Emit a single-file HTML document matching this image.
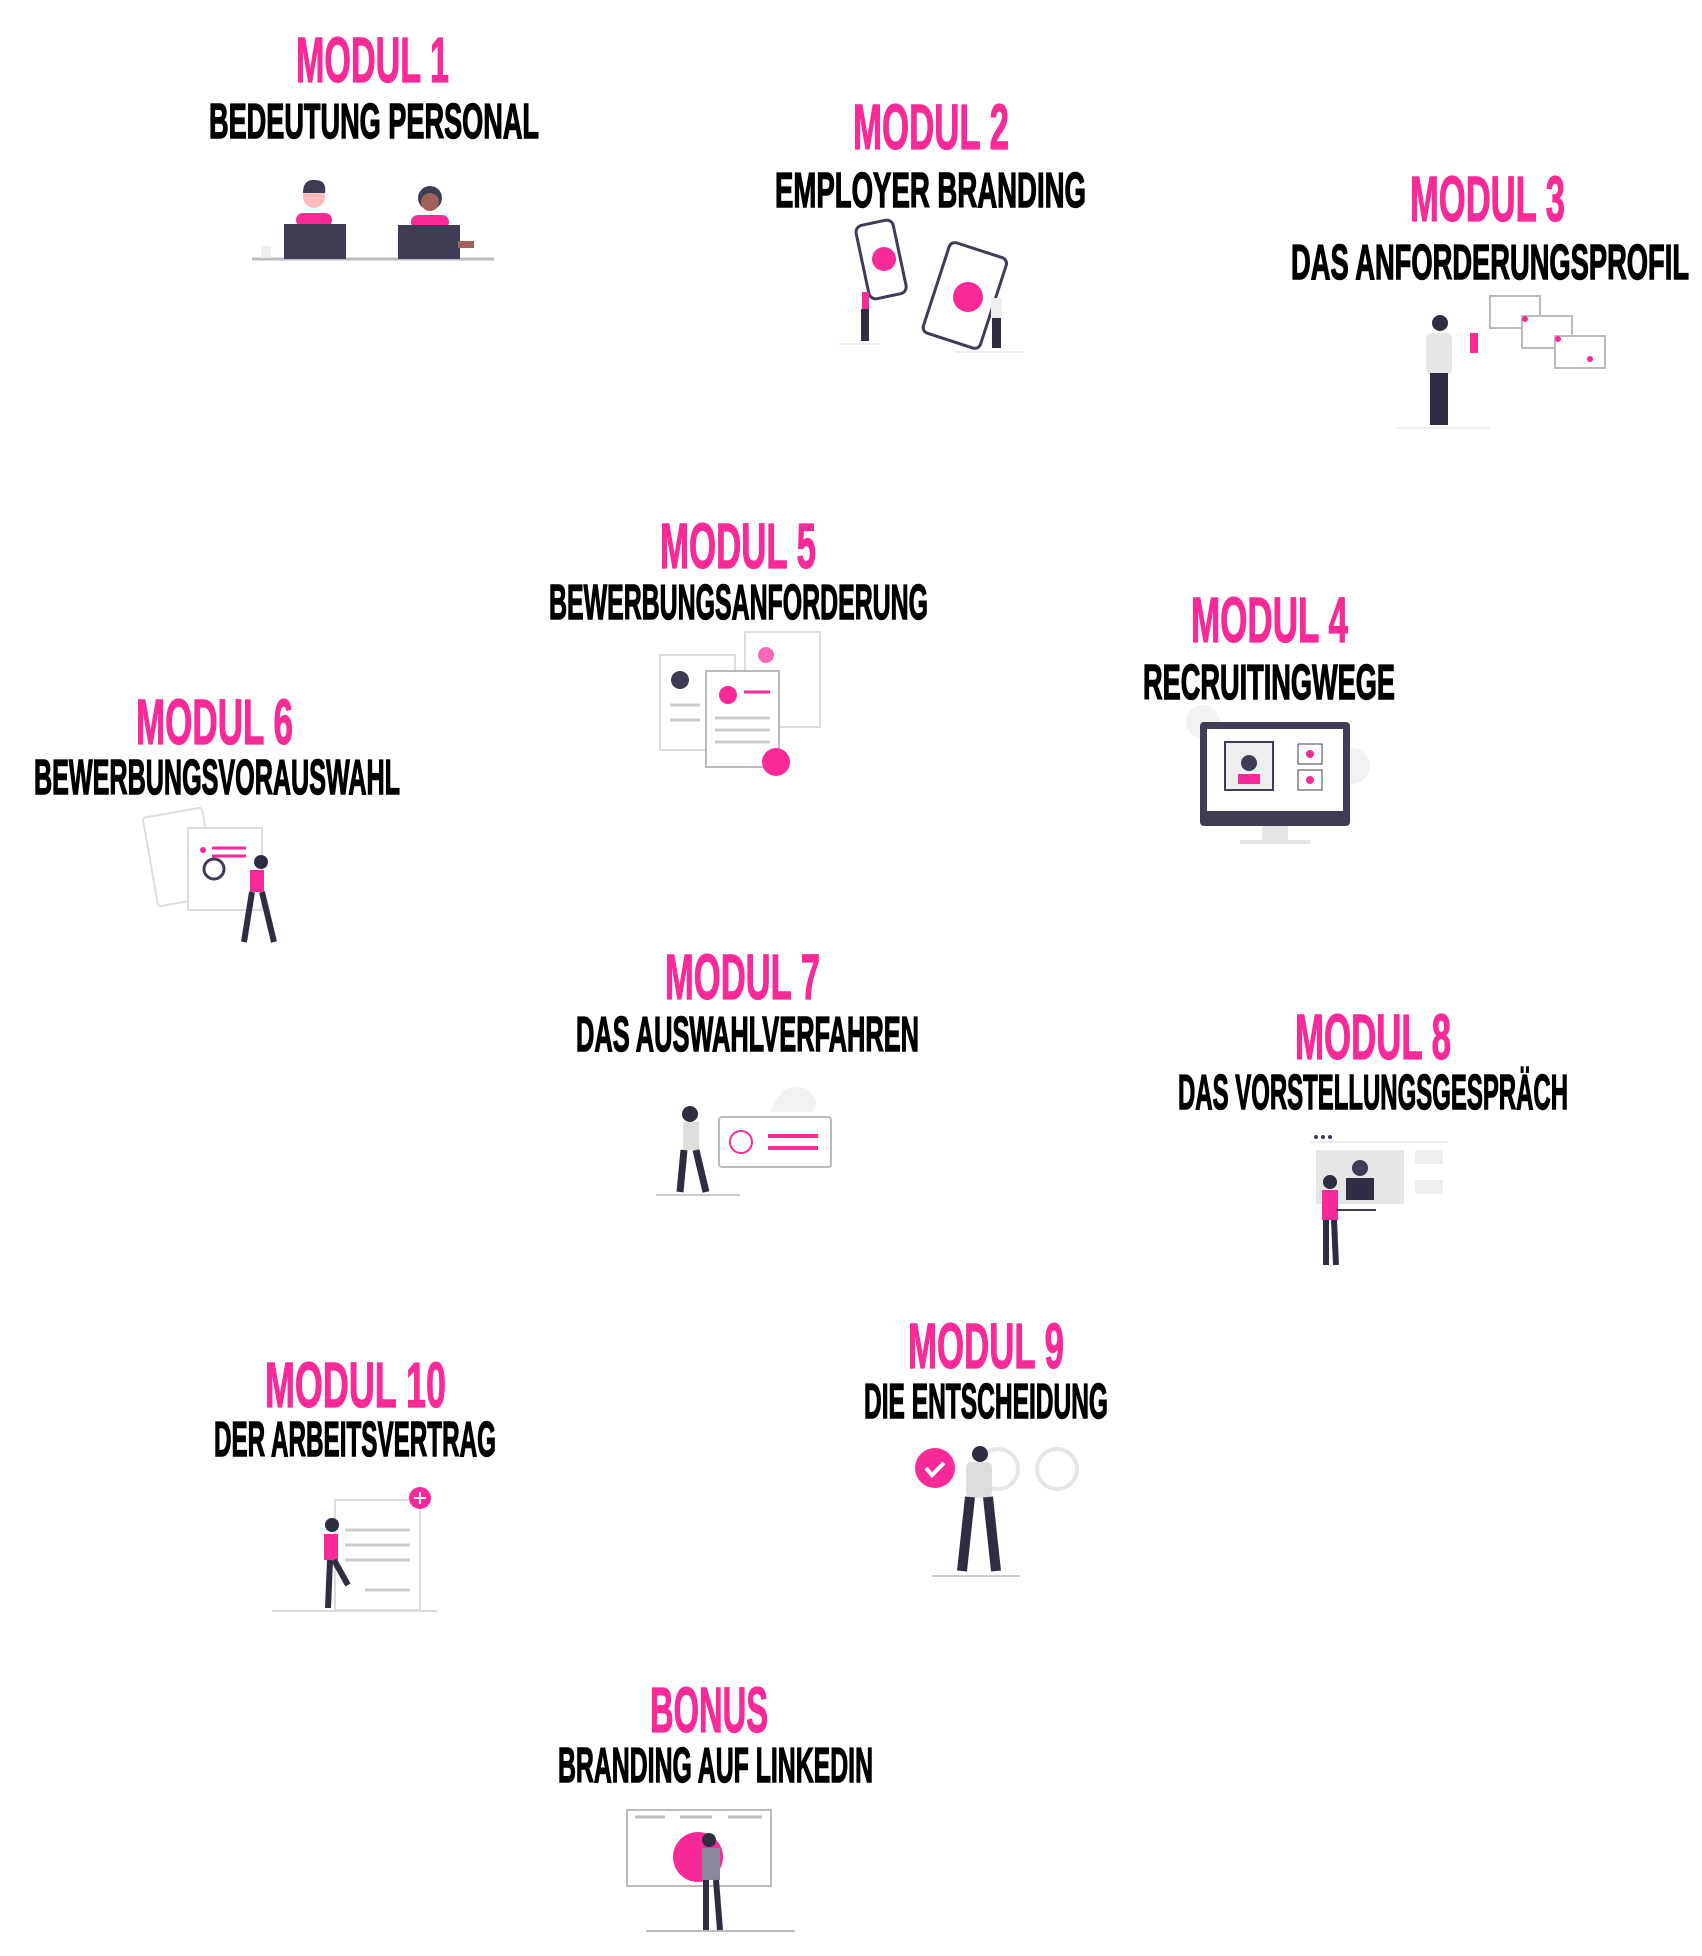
<!DOCTYPE html>
<html><head><meta charset="utf-8"><style>
html,body{margin:0;padding:0;background:#fff}
svg{display:block}
.t{font-family:"Liberation Sans Narrow","Liberation Sans",sans-serif;font-weight:bold;fill:#f72a98;stroke:#f72a98;stroke-width:1.2;font-size:64px}
.s{font-family:"Liberation Sans Narrow","Liberation Sans",sans-serif;font-weight:bold;fill:#000;stroke:#000;stroke-width:1.4;font-size:49px}
</style></head><body>
<svg width="1702" height="1956" viewBox="0 0 1702 1956" xmlns="http://www.w3.org/2000/svg">
<rect width="1702" height="1956" fill="#fff"/>
<g transform="translate(-1,-3)">
<text class="t" x="297" y="85" textLength="153" lengthAdjust="spacingAndGlyphs">MODUL 1</text>
<text class="s" x="210" y="141" textLength="330" lengthAdjust="spacingAndGlyphs">BEDEUTUNG PERSONAL</text>
<text class="t" x="854" y="152" textLength="156" lengthAdjust="spacingAndGlyphs">MODUL 2</text>
<text class="s" x="776" y="210" textLength="311" lengthAdjust="spacingAndGlyphs">EMPLOYER BRANDING</text>
<text class="t" x="1411" y="224" textLength="155" lengthAdjust="spacingAndGlyphs">MODUL 3</text>
<text class="s" x="1292" y="282" textLength="398" lengthAdjust="spacingAndGlyphs">DAS ANFORDERUNGSPROFIL</text>
<text class="t" x="661" y="571" textLength="156" lengthAdjust="spacingAndGlyphs">MODUL 5</text>
<text class="s" x="550" y="622" textLength="379" lengthAdjust="spacingAndGlyphs">BEWERBUNGSANFORDERUNG</text>
<text class="t" x="1192" y="645" textLength="157" lengthAdjust="spacingAndGlyphs">MODUL 4</text>
<text class="s" x="1144" y="702" textLength="252" lengthAdjust="spacingAndGlyphs">RECRUITINGWEGE</text>
<text class="t" x="137" y="747" textLength="157" lengthAdjust="spacingAndGlyphs">MODUL 6</text>
<text class="s" x="35" y="797" textLength="366" lengthAdjust="spacingAndGlyphs">BEWERBUNGSVORAUSWAHL</text>
<text class="t" x="666" y="1002" textLength="155" lengthAdjust="spacingAndGlyphs">MODUL 7</text>
<text class="s" x="577" y="1054" textLength="343" lengthAdjust="spacingAndGlyphs">DAS AUSWAHLVERFAHREN</text>
<text class="t" x="1296" y="1062" textLength="156" lengthAdjust="spacingAndGlyphs">MODUL 8</text>
<text class="s" x="1179" y="1112" textLength="390" lengthAdjust="spacingAndGlyphs">DAS VORSTELLUNGSGESPRÄCH</text>
<text class="t" x="909" y="1371" textLength="156" lengthAdjust="spacingAndGlyphs">MODUL 9</text>
<text class="s" x="865" y="1421" textLength="244" lengthAdjust="spacingAndGlyphs">DIE ENTSCHEIDUNG</text>
<text class="t" x="266" y="1410" textLength="181" lengthAdjust="spacingAndGlyphs">MODUL 10</text>
<text class="s" x="215" y="1459" textLength="282" lengthAdjust="spacingAndGlyphs">DER ARBEITSVERTRAG</text>
<text class="t" x="651" y="1735" textLength="118" lengthAdjust="spacingAndGlyphs">BONUS</text>
<text class="s" x="559" y="1785" textLength="315" lengthAdjust="spacingAndGlyphs">BRANDING AUF LINKEDIN</text>
</g>

<!-- M1 illustration -->
<g>
<line x1="252" y1="259" x2="494" y2="259" stroke="#bbb" stroke-width="3"/>
<circle cx="314" cy="197" r="11" fill="#fbb"/><path d="M303 193 q0-14 12-13 q12 0 10 13z" fill="#3f3d56"/>
<rect x="296" y="213" width="36" height="14" rx="7" fill="#f72a98"/>
<rect x="284" y="224" width="62" height="35" fill="#3f3d56"/>
<circle cx="430" cy="198" r="12" fill="#3f3d56"/><circle cx="430" cy="202" r="9" fill="#a0615a"/>
<rect x="411" y="215" width="38" height="14" rx="7" fill="#f72a98"/>
<rect x="398" y="225" width="62" height="34" fill="#3f3d56"/>
<rect x="458" y="241" width="16" height="7" fill="#a0615a"/>
<rect x="261" y="246" width="10" height="12" fill="#eee"/>
</g>
<!-- M2 -->
<g>
<rect x="862" y="222" width="38" height="75" rx="7" transform="rotate(-12 881 259)" fill="#fff" stroke="#3f3d56" stroke-width="3"/>
<circle cx="884" cy="259" r="12" fill="#f72a98"/>
<rect x="935" y="248" width="60" height="95" rx="6" transform="rotate(18 965 295)" fill="#fff" stroke="#3f3d56" stroke-width="3"/>
<circle cx="968" cy="297" r="15" fill="#f72a98"/>
<rect x="862" y="292" width="7" height="18" fill="#f72a98"/><rect x="861" y="309" width="8" height="32" fill="#2f2e41"/>
<rect x="991" y="298" width="11" height="22" fill="#eee"/><rect x="992" y="318" width="9" height="30" fill="#2f2e41"/>
<line x1="838" y1="344" x2="880" y2="344" stroke="#eee" stroke-width="2"/><line x1="955" y1="352" x2="1025" y2="352" stroke="#eee" stroke-width="2"/>
</g>
<!-- M3 -->
<g>
<rect x="1490" y="296" width="50" height="32" fill="#fff" stroke="#bbb" stroke-width="2"/>
<rect x="1522" y="316" width="50" height="32" fill="#fff" stroke="#bbb" stroke-width="2"/>
<rect x="1555" y="336" width="50" height="32" fill="#fff" stroke="#bbb" stroke-width="2"/>
<circle cx="1525" cy="319" r="3" fill="#f72a98"/><circle cx="1558" cy="339" r="3" fill="#f72a98"/><circle cx="1590" cy="359" r="3" fill="#f72a98"/>
<circle cx="1440" cy="323" r="8" fill="#2f2e41"/>
<rect x="1426" y="333" width="26" height="42" rx="6" fill="#e6e6e6"/>
<rect x="1430" y="373" width="18" height="52" fill="#2f2e41"/>
<rect x="1470" y="333" width="8" height="20" fill="#f72a98"/>
<line x1="1396" y1="428" x2="1490" y2="428" stroke="#eee" stroke-width="2"/>
</g>
<!-- M5 -->
<g>
<rect x="660" y="655" width="75" height="95" fill="#fff" stroke="#ddd" stroke-width="2"/>
<rect x="745" y="632" width="75" height="95" fill="#fff" stroke="#ddd" stroke-width="2"/>
<rect x="706" y="671" width="73" height="96" fill="#fff" stroke="#bbb" stroke-width="2"/>
<circle cx="680" cy="680" r="9" fill="#3f3d56"/><circle cx="728" cy="695" r="9" fill="#f72a98"/><circle cx="766" cy="655" r="8" fill="#f72a98" opacity=".7"/>
<g stroke="#ccc" stroke-width="3"><line x1="715" y1="718" x2="770" y2="718"/><line x1="715" y1="730" x2="770" y2="730"/><line x1="715" y1="742" x2="770" y2="742"/><line x1="670" y1="705" x2="700" y2="705"/><line x1="670" y1="720" x2="700" y2="720"/></g>
<line x1="744" y1="692" x2="770" y2="692" stroke="#f72a98" stroke-width="3"/>
<circle cx="776" cy="762" r="14" fill="#f72a98"/>
</g>
<!-- M4 -->
<g>
<circle cx="1203" cy="722" r="17" fill="#f2f2f2"/><circle cx="1352" cy="766" r="18" fill="#f2f2f2"/>
<rect x="1200" y="722" width="150" height="104" rx="4" fill="#3f3d56"/>
<rect x="1207" y="729" width="136" height="82" fill="#fff"/>
<rect x="1225" y="742" width="48" height="48" fill="#eee" stroke="#3f3d56" stroke-width="2"/>
<circle cx="1249" cy="763" r="8" fill="#3f3d56"/><rect x="1238" y="774" width="22" height="10" fill="#f72a98"/>
<rect x="1298" y="744" width="24" height="20" fill="#fff" stroke="#3f3d56"/><rect x="1298" y="770" width="24" height="20" fill="#fff" stroke="#3f3d56"/>
<circle cx="1310" cy="754" r="4" fill="#f72a98"/><circle cx="1310" cy="780" r="4" fill="#f72a98"/>
<rect x="1262" y="826" width="26" height="14" fill="#e6e6e6"/><rect x="1240" y="840" width="70" height="4" fill="#e6e6e6"/>
</g>
<!-- M6 -->
<g>
<rect x="150" y="812" width="60" height="90" rx="3" transform="rotate(-10 180 857)" fill="#fff" stroke="#ddd" stroke-width="2"/>
<rect x="188" y="828" width="74" height="82" fill="#fff" stroke="#ddd" stroke-width="2"/>
<line x1="212" y1="848" x2="246" y2="848" stroke="#f72a98" stroke-width="3"/><line x1="212" y1="856" x2="246" y2="856" stroke="#f72a98" stroke-width="3"/>
<circle cx="203" cy="850" r="3" fill="#f72a98"/>
<circle cx="214" cy="869" r="10" fill="none" stroke="#3f3d56" stroke-width="3"/>
<rect x="250" y="870" width="14" height="22" fill="#f72a98"/><circle cx="261" cy="862" r="7" fill="#2f2e41"/>
<path d="M252 892 l-8 50 M262 892 l12 50" stroke="#2f2e41" stroke-width="6"/>
</g>
<!-- M7 -->
<g>
<path d="M770 1112 q15-35 38-22 q15 15 3 22z" fill="#f2f2f2"/>
<rect x="719" y="1117" width="112" height="50" rx="3" fill="#fff" stroke="#bbb" stroke-width="2"/>
<circle cx="741" cy="1142" r="11" fill="none" stroke="#f72a98" stroke-width="2"/>
<line x1="768" y1="1136" x2="818" y2="1136" stroke="#f72a98" stroke-width="4"/><line x1="768" y1="1148" x2="818" y2="1148" stroke="#f72a98" stroke-width="4"/>
<circle cx="690" cy="1114" r="8" fill="#2f2e41"/><rect x="683" y="1122" width="16" height="28" fill="#ddd"/>
<path d="M684 1150 l-4 42 M696 1150 l10 42" stroke="#2f2e41" stroke-width="7"/>
<line x1="656" y1="1195" x2="740" y2="1195" stroke="#ccc" stroke-width="2"/>
</g>
<!-- M8 -->
<g>
<circle cx="1316" cy="1137" r="2" fill="#3f3d56"/><circle cx="1323" cy="1137" r="2" fill="#3f3d56"/><circle cx="1330" cy="1137" r="2" fill="#3f3d56"/>
<line x1="1310" y1="1142" x2="1447" y2="1142" stroke="#eee" stroke-width="2"/>
<rect x="1316" y="1150" width="88" height="54" fill="#e6e6e6"/>
<circle cx="1360" cy="1168" r="8" fill="#3f3d56"/><rect x="1346" y="1178" width="28" height="22" fill="#2f2e41"/>
<rect x="1415" y="1150" width="28" height="14" fill="#eee"/><rect x="1415" y="1180" width="28" height="14" fill="#eee"/>
<circle cx="1330" cy="1182" r="7" fill="#2f2e41"/><rect x="1322" y="1190" width="16" height="30" fill="#f72a98"/>
<path d="M1326 1220 l0 45 M1334 1220 l2 45" stroke="#2f2e41" stroke-width="6"/>
<line x1="1336" y1="1210" x2="1376" y2="1210" stroke="#3f3d56" stroke-width="2"/>
</g>
<!-- M9 -->
<g>
<circle cx="1057" cy="1469" r="20" fill="none" stroke="#e6e6e6" stroke-width="4"/>
<circle cx="998" cy="1469" r="20" fill="none" stroke="#e6e6e6" stroke-width="4"/>
<circle cx="935" cy="1468" r="20" fill="#f72a98"/>
<path d="M926 1468 l6 7 l12-12" stroke="#fff" stroke-width="4" fill="none"/>
<circle cx="980" cy="1454" r="8" fill="#2f2e41"/><rect x="966" y="1462" width="26" height="36" rx="5" fill="#ddd"/>
<path d="M970 1497 l-8 74 M988 1497 l8 74" stroke="#2f2e41" stroke-width="10"/>
<line x1="932" y1="1576" x2="1020" y2="1576" stroke="#ccc" stroke-width="2"/>
</g>
<!-- M10 -->
<g>
<rect x="335" y="1500" width="85" height="110" fill="#fff" stroke="#ddd" stroke-width="2"/>
<g stroke="#ccc" stroke-width="3"><line x1="345" y1="1530" x2="410" y2="1530"/><line x1="345" y1="1545" x2="410" y2="1545"/><line x1="345" y1="1560" x2="410" y2="1560"/><line x1="365" y1="1590" x2="410" y2="1590"/></g>
<circle cx="420" cy="1498" r="11" fill="#f72a98"/>
<path d="M414 1498 h12 M420 1492 v12" stroke="#fff" stroke-width="2"/>
<circle cx="332" cy="1525" r="7" fill="#2f2e41"/><rect x="324" y="1534" width="14" height="26" fill="#f72a98"/>
<path d="M330 1560 l-2 48 M334 1560 l14 25" stroke="#2f2e41" stroke-width="6"/>
<line x1="272" y1="1611" x2="437" y2="1611" stroke="#ddd" stroke-width="2"/>
</g>
<!-- Bonus -->
<g>
<rect x="627" y="1810" width="144" height="76" fill="#fff" stroke="#bbb" stroke-width="2"/>
<g stroke="#bbb" stroke-width="3"><line x1="635" y1="1817" x2="665" y2="1817"/><line x1="680" y1="1817" x2="712" y2="1817"/><line x1="728" y1="1817" x2="762" y2="1817"/></g>
<circle cx="698" cy="1857" r="25" fill="#f72a98"/>
<circle cx="709" cy="1840" r="7" fill="#2f2e41"/><rect x="702" y="1848" width="18" height="32" fill="#8a8a9a"/>
<path d="M706 1880 l0 50 M716 1880 l4 50" stroke="#2f2e41" stroke-width="6"/>
<line x1="646" y1="1931" x2="795" y2="1931" stroke="#bbb" stroke-width="2"/>
</g>
</svg>
</body></html>
